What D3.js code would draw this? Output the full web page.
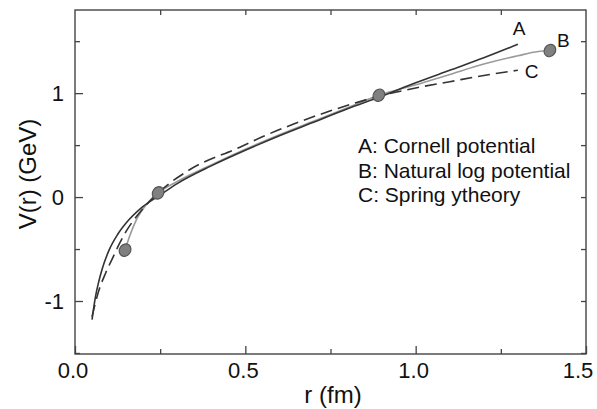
<!DOCTYPE html>
<html>
<head>
<meta charset="utf-8">
<script src="https://cdn.jsdelivr.net/npm/d3@7"></script>
<style>
  body { margin: 0; background: #fff; }
  text { font-family: "Liberation Sans", Arial, sans-serif; fill: #111; }
</style>
</head>
<body>
<div id="chart"></div>
<script>
// curve A: Cornell potential (solid)
const rA = [0.05, 0.06, 0.07, 0.08, 0.1, 0.125, 0.15, 0.2, 0.25, 0.3, 0.4, 0.5, 0.6, 0.7, 0.8, 0.9, 1.0, 1.1, 1.2, 1.3]
const vA = [-1.18, -0.96, -0.81, -0.69, -0.51, -0.36, -0.25, -0.09, 0.02, 0.13, 0.30, 0.45, 0.59, 0.72, 0.85, 0.97, 1.10, 1.22, 1.34, 1.47]

// curve B: natural log potential (grey)
const rB = [0.147, 0.16, 0.18, 0.21, 0.244, 0.3, 0.4, 0.5, 0.6, 0.7, 0.8, 0.892, 1.0, 1.1, 1.2, 1.3, 1.36, 1.394]
const vB = [-0.51, -0.38, -0.22, -0.07, 0.04, 0.15, 0.31, 0.46, 0.60, 0.73, 0.86, 0.98, 1.08, 1.18, 1.28, 1.36, 1.40, 1.41]

// curve C: spring theory (dashed)
const rC = [0.05, 0.07, 0.09, 0.11, 0.13, 0.15, 0.175, 0.2, 0.244, 0.335, 0.484, 0.55, 0.64, 0.75, 0.892, 1.0, 1.1, 1.2, 1.3]
const vC = [-1.15, -0.90, -0.73, -0.59, -0.45, -0.33, -0.21, -0.11, 0.04, 0.26, 0.48, 0.58, 0.70, 0.83, 0.97, 1.05, 1.11, 1.17, 1.22]

// data points (blobs)
const rPts = [0.147, 0.244, 0.892, 1.394]
const vPts = [-0.51, 0.04, 0.98, 1.41]

const xTicks = [0, 0.25, 0.5, 0.75, 1.0, 1.25, 1.5]
const yTicks = [-1.5, -1, -0.5, 0, 0.5, 1, 1.5]
const xLabels = ["0.0", "0.5", "1.0", "1.5"]
const yLabels = ["-1", "0", "1"]
const legendLines = ["A: Cornell potential", "B: Natural log potential", "C: Spring ytheory"]
const curveNames = ["A", "B", "C"]

const width = 597
const height = 409
const plotL = 75, plotR = 586, plotT = 10, plotB = 354

const svg = d3.select('#chart')
    .append('svg')
        .attr('width', width)
        .attr('height', height)

const xScale = d3.scaleLinear().domain([0, 1.5]).range([plotL, plotR])
const yScale = d3.scaleLinear().domain([-1.51, 1.8]).range([plotB, plotT])

const isMajorX = d => Math.abs(d * 2 - Math.round(d * 2)) < 1e-6
const isMajorY = d => Math.abs(d - Math.round(d)) < 1e-6

// bottom axis, ticks inward
svg.append('g')
    .attr('transform', 'translate(0,' + plotB + ')')
    .call(d3.axisBottom(xScale).tickValues(xTicks).tickSize(0).tickFormat(''))
    .call(g => g.select('.domain').remove())
    .call(g => g.selectAll('.tick line')
        .attr('y2', d => isMajorX(d) ? -8 : -5)
        .attr('stroke', '#444').attr('stroke-width', 1.3))

// x tick labels (last one pulled in, as in the original it hugs the edge)
svg.append('g').selectAll('text')
    .data(xLabels)
    .enter()
    .append('text')
        .attr('x', d => Math.min(xScale(+d) - 2, 578))
        .attr('y', 378)
        .attr('text-anchor', 'middle')
        .style('font-size', '22px')
        .text(d => d)

// top axis
svg.append('g')
    .attr('transform', 'translate(0,' + plotT + ')')
    .call(d3.axisTop(xScale).tickValues(xTicks.slice(1, -1)).tickSize(0).tickFormat(''))
    .call(g => g.select('.domain').remove())
    .call(g => g.selectAll('.tick line').attr('y2', 5).attr('stroke', '#444').attr('stroke-width', 1.3))

// left axis
svg.append('g')
    .attr('transform', 'translate(' + plotL + ',0)')
    .call(d3.axisLeft(yScale).tickValues(yTicks).tickSize(0).tickFormat(''))
    .call(g => g.select('.domain').remove())
    .call(g => g.selectAll('.tick line')
        .attr('x2', d => isMajorY(d) ? 8 : 5)
        .attr('stroke', '#444').attr('stroke-width', 1.3))

svg.append('g').selectAll('text')
    .data(yLabels)
    .enter()
    .append('text')
        .attr('x', 64)
        .attr('y', d => yScale(+d) + 8)
        .attr('text-anchor', 'end')
        .style('font-size', '22px')
        .text(d => d)

// right axis
svg.append('g')
    .attr('transform', 'translate(' + plotR + ',0)')
    .call(d3.axisRight(yScale).tickValues(yTicks).tickSize(0).tickFormat(''))
    .call(g => g.select('.domain').remove())
    .call(g => g.selectAll('.tick line').attr('x2', -5).attr('stroke', '#444').attr('stroke-width', 1.3))

// frame
svg.append('rect')
    .attr('x', plotL)
    .attr('y', plotT)
    .attr('width', plotR - plotL)
    .attr('height', plotB - plotT)
    .attr('fill', 'none')
    .attr('stroke', '#444')
    .attr('stroke-width', 1.4)

// axis titles
svg.append('text')
    .attr('x', 333)
    .attr('y', 403)
    .attr('text-anchor', 'middle')
    .style('font-size', '24px')
    .text('r (fm)')

svg.append('text')
    .attr('transform', 'translate(36,174) rotate(-90)')
    .attr('text-anchor', 'middle')
    .style('font-size', '24px')
    .text('V(r) (GeV)')

// curves
const line = d3.line()
    .x(d => xScale(d[0]))
    .y(d => yScale(d[1]))
    .curve(d3.curveMonotoneX)

const zip = (a, b) => a.map((v, i) => [v, b[i]])

svg.append('path')
    .datum(zip(rB, vB))
    .attr('d', line)
    .attr('fill', 'none')
    .attr('stroke', '#9a9a9a')
    .attr('stroke-width', 1.6)

svg.append('path')
    .datum(zip(rC, vC))
    .attr('d', line)
    .attr('fill', 'none')
    .attr('stroke', '#333')
    .attr('stroke-width', 1.6)
    .attr('stroke-dasharray', '12,6')

svg.append('path')
    .datum(zip(rA, vA))
    .attr('d', line)
    .attr('fill', 'none')
    .attr('stroke', '#333')
    .attr('stroke-width', 1.6)

// data blobs
svg.append('g').selectAll('ellipse')
    .data(zip(rPts, vPts))
    .enter()
    .append('ellipse')
        .attr('cx', d => xScale(d[0]))
        .attr('cy', d => yScale(d[1]))
        .attr('rx', 5.5)
        .attr('ry', 6.5)
        .attr('transform', d => 'rotate(35,' + xScale(d[0]) + ',' + yScale(d[1]) + ')')
        .attr('fill', '#808080')
        .attr('stroke', '#555')
        .attr('stroke-width', 1.2)

// curve letters, placed at the curve ends
const ends = [
    [rA[rA.length - 1], vA[vA.length - 1], -5, -9],
    [rB[rB.length - 1], vB[vB.length - 1], 7, -4],
    [rC[rC.length - 1], vC[vC.length - 1], 7, 8]
]
svg.append('g').selectAll('text')
    .data(ends)
    .enter()
    .append('text')
        .attr('x', d => xScale(d[0]) + d[2])
        .attr('y', d => yScale(d[1]) + d[3])
        .style('font-size', '19px')
        .text((d, i) => curveNames[i])

// legend
svg.append('g').selectAll('text')
    .data(legendLines)
    .enter()
    .append('text')
        .attr('x', 358)
        .attr('y', (d, i) => 153 + i * 24.5)
        .style('font-size', '21px')
        .text(d => d)
</script>
</body>
</html>
